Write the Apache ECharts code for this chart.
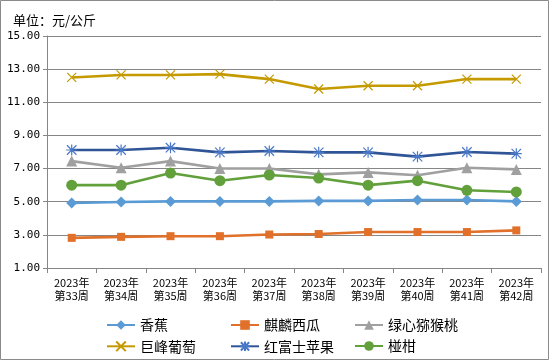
<!DOCTYPE html>
<html>
<head>
<meta charset="utf-8">
<script src="https://cdn.jsdelivr.net/npm/echarts@6/dist/echarts.min.js"></script>
<style>html,body{margin:0;padding:0;background:#fff}#c{width:550px;height:362px}</style>
</head>
<body>
<div id="c"></div>
<script>
var categories = ['2023年\n第33周','2023年\n第34周','2023年\n第35周','2023年\n第36周','2023年\n第37周','2023年\n第38周','2023年\n第39周','2023年\n第40周','2023年\n第41周','2023年\n第42周'];
var banana   = [4.92, 4.98, 5.02, 5.02, 5.02, 5.05, 5.05, 5.10, 5.10, 5.02];
var melon    = [2.82, 2.88, 2.92, 2.92, 3.02, 3.05, 3.17, 3.17, 3.17, 3.27];
var kiwi     = [7.45, 7.05, 7.45, 7.00, 7.00, 6.65, 6.77, 6.60, 7.05, 6.95];
var grape    = [12.50, 12.65, 12.65, 12.70, 12.40, 11.80, 12.00, 12.00, 12.40, 12.40];
var apple    = [8.12, 8.12, 8.26, 7.98, 8.06, 7.98, 7.98, 7.72, 8.00, 7.90];
var ponkan   = [6.00, 6.00, 6.73, 6.27, 6.61, 6.43, 6.00, 6.27, 5.69, 5.59];
var seriesNames = ['香蕉','麒麟西瓜','绿心猕猴桃','巨峰葡萄','红富士苹果','椪柑'];
var yMin = 1, yMax = 15, yStep = 2;

var chart = echarts.init(document.getElementById('c'), null, {renderer:'canvas'});
var font = "'Noto Sans CJK SC', sans-serif";
function mk(name, data, color, symbol, size, extra){
  var s = {name:name, type:'line', data:data, symbol:symbol, symbolSize:size,
    showSymbol:true, lineStyle:{width:2.6, color:color},
    itemStyle:{color:color, borderColor:color, borderWidth:0}, z:2};
  if (extra) Object.assign(s.itemStyle, extra);
  return s;
}
var xPath = 'path://M0,0 L10,10 M10,0 L0,10';
var starPath = 'path://M5,0 L5,10 M0.7,0.7 L9.3,9.3 M9.3,0.7 L0.7,9.3 M0,5 L10,5';
var legendCommon = {orient:'vertical', itemWidth:28, itemHeight:12, itemGap:7, textStyle:{fontSize:14, fontFamily:font, color:'#000'}, top:313};
chart.setOption({
  animation:false,
  backgroundColor:'#fff',
  title:{text:'单位：元/公斤', left:8, top:9, textStyle:{fontSize:13, fontWeight:'normal', fontFamily:font, color:'#000'}},
  graphic:[{type:'rect', shape:{x:0.5,y:0.5,width:548,height:359}, style:{fill:'none', stroke:'#8a8a8a', lineWidth:1}, silent:true}],
  grid:{left:47, right:9, top:36, bottom:94, containLabel:false},
  legend:[
    Object.assign({data:['香蕉','巨峰葡萄'], left:101}, legendCommon),
    Object.assign({data:['麒麟西瓜','红富士苹果'], left:225}, legendCommon),
    Object.assign({data:['绿心猕猴桃','椪柑'], left:349}, legendCommon)
  ],
  xAxis:{type:'category', data:categories, boundaryGap:true,
    axisLine:{lineStyle:{color:'#868686', width:1}},
    axisTick:{show:true, length:5, lineStyle:{color:'#868686'}},
    axisLabel:{fontSize:11, fontFamily:font, color:'#000', lineHeight:13, margin:8, interval:0}},
  yAxis:{type:'value', min:yMin, max:yMax, interval:yStep,
    axisLine:{show:true, lineStyle:{color:'#868686'}},
    axisTick:{show:true, length:4, lineStyle:{color:'#868686'}},
    splitLine:{lineStyle:{color:'#868686', width:1}},
    axisLabel:{fontSize:11, fontFamily:"'DejaVu Sans Mono', monospace", color:'#000', margin:7,
      formatter:function(v){return v.toFixed(2);}}},
  series:[
    mk('香蕉', banana, '#5B9BD5', 'diamond', 11),
    mk('麒麟西瓜', melon, '#E0702A', 'rect', 8),
    mk('绿心猕猴桃', kiwi, '#A0A0A0', 'triangle', 11),
    mk('巨峰葡萄', grape, '#C49A00', xPath, 9, {color:'none', borderWidth:1.2}),
    mk('红富士苹果', apple, '#2F5597', starPath, 11, {color:'none', borderColor:'#4A78C8', borderWidth:1.2}),
    mk('椪柑', ponkan, '#62A03C', 'circle', 11)
  ]
});
</script>
</body>
</html>
